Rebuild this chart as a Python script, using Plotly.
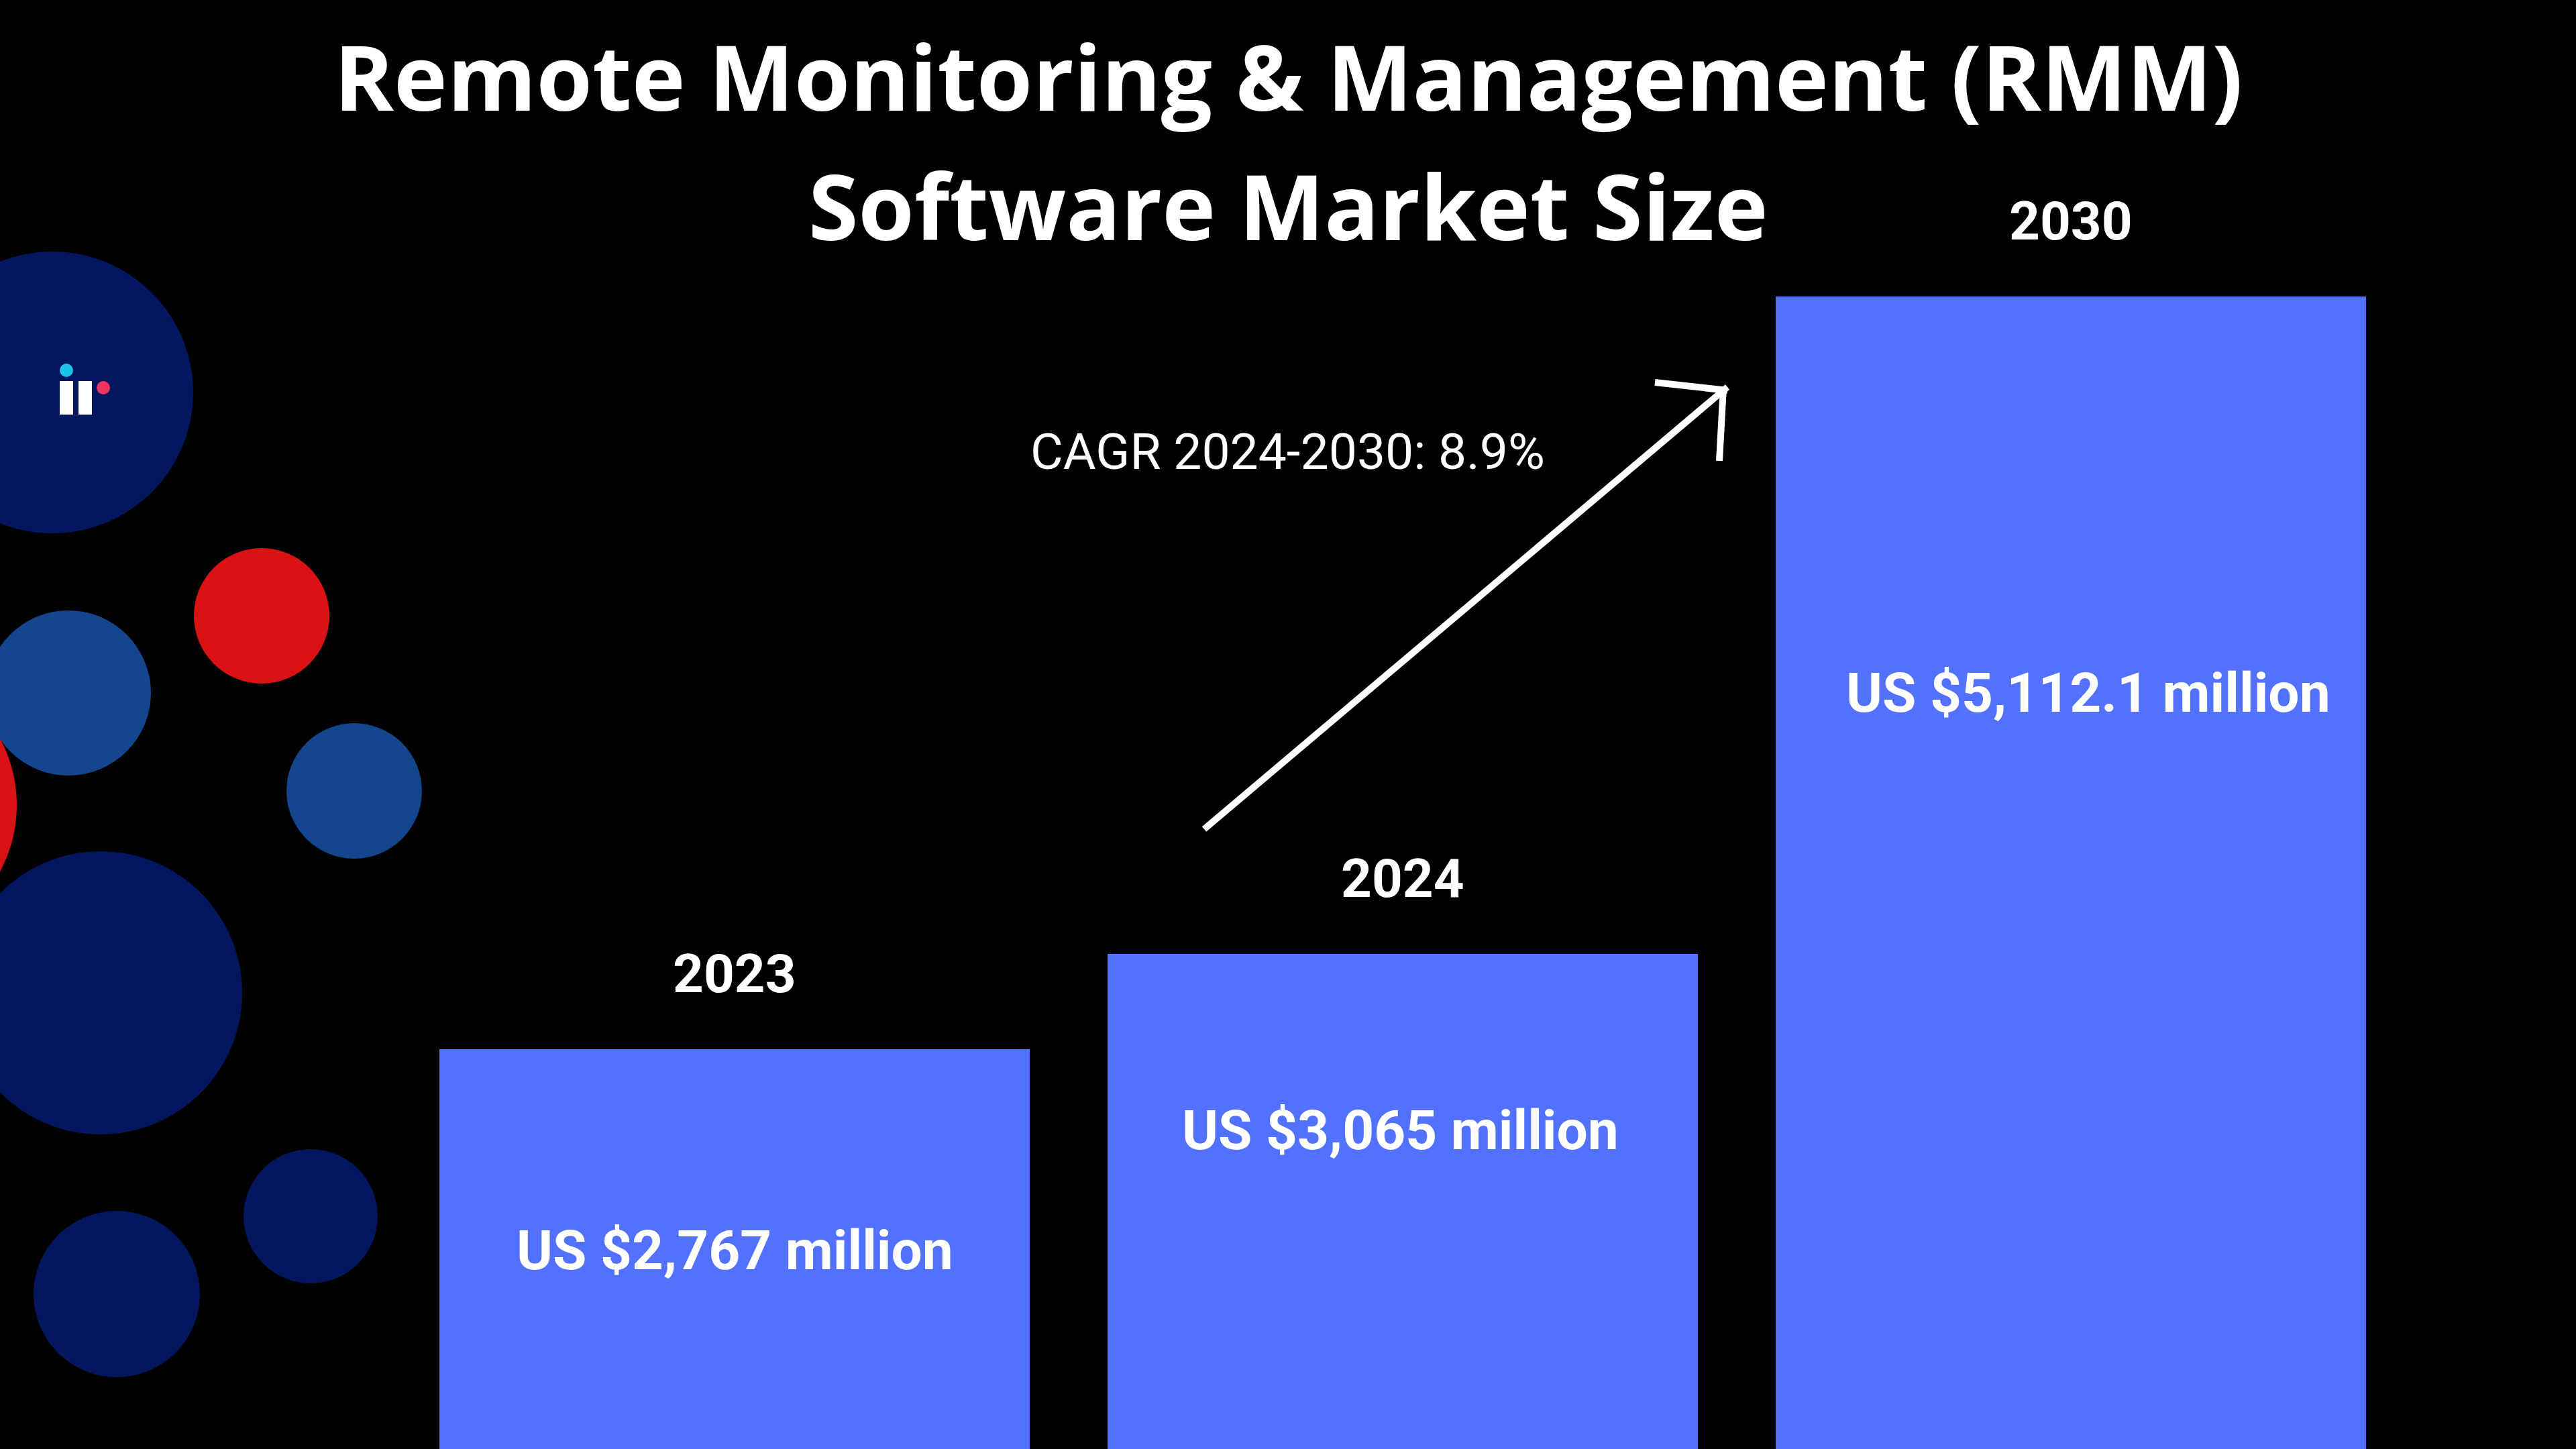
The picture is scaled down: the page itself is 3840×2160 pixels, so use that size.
import plotly.graph_objects as go

# ---------------- data ----------------
years = ["2023", "2024", "2030"]
market_size = [2767, 3065, 5112.1]          # US$ million
cagr_label = "CAGR 2024-2030: 8.9%"
title_lines = ["Remote Monitoring & Management (RMM)", "Software Market Size"]

# ---------------- canvas helpers ----------------
W, H = 3840, 2160


def px(x):
    return x / W


def py(y):
    return 1 - y / H


def fmt(v):
    return f"US ${v:,.1f} million" if isinstance(v, float) else f"US ${v:,} million"


BAR = "#5271FF"
NAVY = "#03175E"
MBLUE = "#13468C"
RED = "#D91313"

fig = go.Figure()
fig.add_trace(go.Bar(
    x=years, y=market_size,
    marker=dict(color=BAR, line=dict(width=0)),
    width=0.8835,
    hoverinfo="skip",
    showlegend=False,
))

shapes = []

# decorative circles (pixel centre, radius, colour)
circles = [
    (-185, 1200, 210, RED),
    (78, 585, 210, NAVY),
    (390, 918, 101, RED),
    (102, 1033, 123, MBLUE),
    (528, 1179, 101, MBLUE),
    (150, 1480, 211, NAVY),
    (463, 1813, 100, NAVY),
    (174, 1929, 124, NAVY),
]
for cx, cy, r, c in circles:
    shapes.append(dict(type="circle", xref="paper", yref="paper",
                       x0=px(cx - r), x1=px(cx + r), y0=py(cy + r), y1=py(cy - r),
                       fillcolor=c, line=dict(width=0), layer="below"))

# small logo
for x0, x1 in [(89, 109), (117, 137)]:
    shapes.append(dict(type="rect", xref="paper", yref="paper",
                       x0=px(x0), x1=px(x1), y0=py(618), y1=py(568),
                       fillcolor="white", line=dict(width=0), layer="below"))
for cx, cy, r, c in [(99, 552, 10, "#1BC3E8"), (154, 578, 10, "#EE3560")]:
    shapes.append(dict(type="circle", xref="paper", yref="paper",
                       x0=px(cx - r), x1=px(cx + r), y0=py(cy + r), y1=py(cy - r),
                       fillcolor=c, line=dict(width=0), layer="below"))

# arrow
for (xa, ya), (xb, yb) in [((1795, 1236), (2575, 577)),
                           ((2467, 570), (2575, 582)),
                           ((2563, 687), (2569, 578))]:
    shapes.append(dict(type="line", xref="paper", yref="paper",
                       x0=px(xa), y0=py(ya), x1=px(xb), y1=py(yb),
                       line=dict(color="white", width=10)))

annotations = []
# title
for text, y in zip(title_lines, [113, 306]):
    annotations.append(dict(text=text, xref="paper", yref="paper", x=0.5, y=py(y),
                            xanchor="center", yanchor="middle", showarrow=False,
                            font=dict(family="Open Sans", size=135, color="white", weight="bold")))

# year labels above bars
for i, (yr, v) in enumerate(zip(years, market_size)):
    annotations.append(dict(text=yr, x=i, y=v, xref="x", yref="y",
                            xanchor="center", yanchor="middle", yshift=112, showarrow=False,
                            font=dict(family="Roboto", size=80, color="white", weight="bold")))

# value labels inside bars
for v, (cx, cy) in zip(market_size, [(1095, 1864), (2087, 1685), (3113, 1033)]):
    annotations.append(dict(text=fmt(v), xref="paper", yref="paper", x=px(cx), y=py(cy),
                            xanchor="center", yanchor="middle", showarrow=False,
                            font=dict(family="Roboto", size=82, color="white", weight="bold")))

# CAGR
annotations.append(dict(text=cagr_label, xref="paper", yref="paper", x=px(1919), y=py(673),
                        xanchor="center", yanchor="middle", showarrow=False,
                        font=dict(family="Roboto", size=75, color="white")))

fig.update_layout(
    width=W, height=H,
    margin=dict(l=0, r=0, t=0, b=0),
    paper_bgcolor="black", plot_bgcolor="black",
    xaxis=dict(visible=False, type="category", range=[-1.0994, 2.756]),
    yaxis=dict(visible=False, range=[1522, 6037]),
    shapes=shapes, annotations=annotations,
    bargap=0, showlegend=False,
)

fig.write_html("out.html", config={"displayModeBar": False},
               post_script="document.body.style.margin='0';document.body.style.overflow='hidden';")
